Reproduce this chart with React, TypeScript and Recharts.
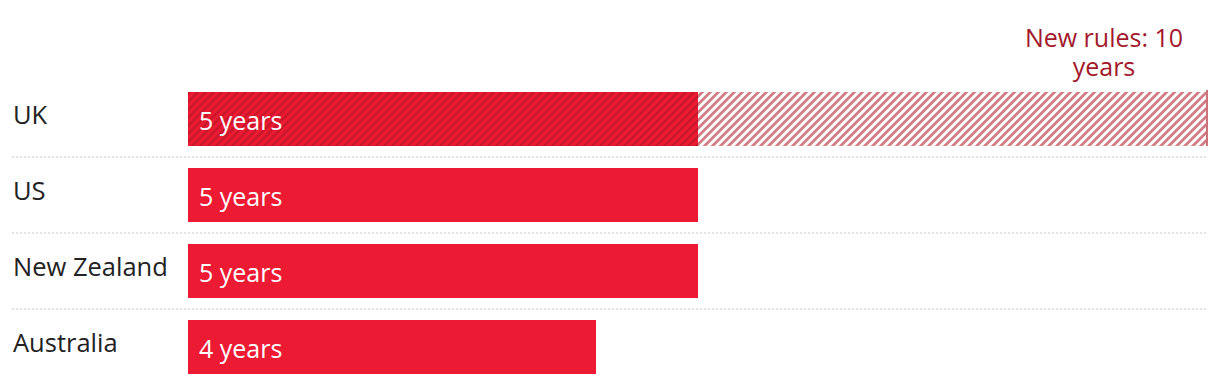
import React from "react";
import { BarChart, Bar, XAxis, YAxis, LabelList } from "recharts";

document.body.style.margin = "0";

const countries = ["UK", "US", "New Zealand", "Australia"];
const currentYears = [5, 5, 5, 4];
const newRuleExtra = [5, null, null, null];
const newRuleLines = ["New rules: 10", "years"];

const data = countries.map((name, i) => ({
  name,
  current: currentYears[i],
  extra: newRuleExtra[i],
}));

const FONT = "'Open Sans', sans-serif";

const CountryTick = (props: any) => {
  const { y, payload, index } = props;
  const isLast = index === countries.length - 1;
  return (
    <g>
      <text x={13} y={y} dy={5} fontSize={25.5} fill="#222" fontFamily={FONT} textAnchor="start">
        {payload.value}
      </text>
      {!isLast && (
        <line
          x1={12}
          x2={1208}
          y1={y + 38}
          y2={y + 38}
          stroke="#c8c8c8"
          strokeWidth={1}
          strokeDasharray="2 2"
        />
      )}
    </g>
  );
};

const CurrentShape = (props: any) => {
  const { x, y, width, height, payload } = props;
  const fill = payload.extra ? "url(#hatchDark)" : "#ed1a33";
  return <rect x={x} y={y} width={width} height={height} fill={fill} />;
};

const ExtraShape = (props: any) => {
  const { x, y, width, height } = props;
  if (!width) return null;
  return (
    <g>
      <rect x={x} y={y} width={width} height={height} fill="url(#hatchLight)" />
      <rect x={x + width - 2} y={y - 2} width={2} height={height + 2} fill="#c9727c" />
    </g>
  );
};

const NewRuleLabel = (props: any) => {
  const { x, y, width, value } = props;
  if (value == null) return null;
  const cx = x + width - 104;
  return (
    <g>
      {newRuleLines.map((line, i) => (
        <text
          key={line}
          x={cx}
          y={y - 45 + i * 29}
          fontSize={25}
          fill="#a3182b"
          fontFamily={FONT}
          textAnchor="middle"
        >
          {line}
        </text>
      ))}
    </g>
  );
};

const App = () => {
  return (
    <div style={{ width: 1220, height: 386, background: "#fff" }}>
      <svg width={0} height={0} style={{ position: "absolute" }}>
        <defs>
          <pattern id="hatchDark" patternUnits="userSpaceOnUse" width={5.66} height={5.66} patternTransform="rotate(45)">
            <rect width={5.66} height={5.66} fill="#ed1a33" />
            <rect width={2.4} height={5.66} fill="#c6172b" />
          </pattern>
          <pattern id="hatchLight" patternUnits="userSpaceOnUse" width={5.66} height={5.66} patternTransform="rotate(45)">
            <rect width={5.66} height={5.66} fill="#ffffff" />
            <rect width={2.8} height={5.66} fill="#d27c85" />
          </pattern>
        </defs>
      </svg>
      <BarChart
        width={1220}
        height={386}
        data={data}
        layout="vertical"
        margin={{ top: 81, right: 12, bottom: 1, left: 0 }}
        barCategoryGap={11}
      >
        <XAxis type="number" domain={[0, 10]} hide />
        <YAxis
          type="category"
          dataKey="name"
          width={188}
          axisLine={false}
          tickLine={false}
          tick={<CountryTick />}
        />
        <Bar dataKey="current" stackId="a" shape={<CurrentShape />} isAnimationActive={false}>
          <LabelList
            dataKey="current"
            position="insideLeft"
            offset={11}
            dy={2}
            fill="#fff"
            fontSize={25}
            fontFamily={FONT}
            formatter={(v: any) => `${v} years`}
          />
        </Bar>
        <Bar dataKey="extra" stackId="a" shape={<ExtraShape />} isAnimationActive={false}>
          <LabelList dataKey="extra" content={<NewRuleLabel />} />
        </Bar>
      </BarChart>
    </div>
  );
};

export default App;
